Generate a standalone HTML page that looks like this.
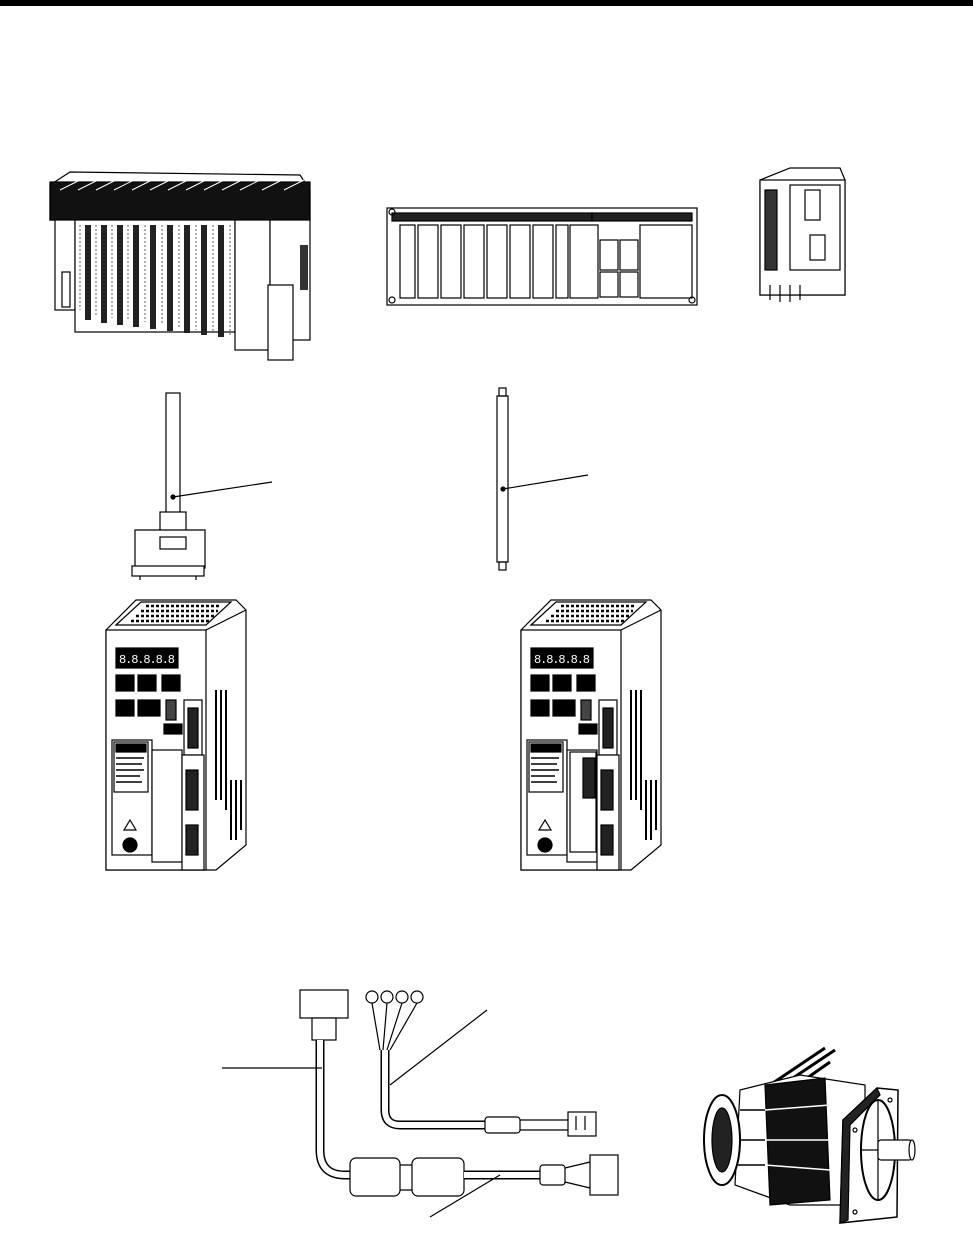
<!DOCTYPE html>
<html><head><meta charset="utf-8"><style>
html,body{margin:0;padding:0;background:#fff;}
svg{display:block}
</style></head><body>
<svg width="973" height="1234" viewBox="0 0 973 1234" xmlns="http://www.w3.org/2000/svg" fill="none" stroke="#000" stroke-width="1.2">
<rect x="0" y="0" width="973" height="6" fill="#000" stroke="none"/>

<!-- PLC 1 -->
<g>
<polygon points="50,185 70,172 300,175 310,190 310,220 50,220" fill="#fff"/>
<rect x="50" y="182" width="260" height="38" fill="#111"/>
<g stroke="#fff" stroke-width="1">
<line x1="60" y1="190" x2="80" y2="180"/><line x1="78" y1="190" x2="98" y2="180"/><line x1="96" y1="190" x2="116" y2="180"/><line x1="114" y1="190" x2="134" y2="180"/><line x1="132" y1="190" x2="152" y2="180"/><line x1="150" y1="190" x2="170" y2="180"/><line x1="168" y1="190" x2="188" y2="180"/><line x1="186" y1="190" x2="206" y2="180"/><line x1="204" y1="190" x2="224" y2="180"/><line x1="222" y1="190" x2="242" y2="180"/><line x1="240" y1="190" x2="260" y2="180"/><line x1="262" y1="190" x2="282" y2="180"/><line x1="284" y1="190" x2="304" y2="180"/>
</g>
<rect x="55" y="220" width="20" height="90" fill="#fff"/>
<rect x="75" y="220" width="160" height="112" fill="#fff"/>
<g fill="#222" stroke="none">
<rect x="85" y="225" width="6" height="95"/><rect x="101" y="225" width="6" height="98"/><rect x="117" y="225" width="6" height="100"/><rect x="133" y="225" width="6" height="102"/><rect x="150" y="225" width="6" height="104"/><rect x="167" y="225" width="6" height="106"/><rect x="184" y="225" width="6" height="108"/><rect x="201" y="225" width="6" height="110"/><rect x="218" y="225" width="6" height="112"/>
</g>
<g stroke="#777" stroke-dasharray="2,2">
<line x1="80" y1="225" x2="80" y2="310"/><line x1="96" y1="225" x2="96" y2="315"/><line x1="112" y1="225" x2="112" y2="318"/><line x1="128" y1="225" x2="128" y2="320"/><line x1="145" y1="225" x2="145" y2="322"/><line x1="162" y1="225" x2="162" y2="325"/><line x1="179" y1="225" x2="179" y2="328"/><line x1="196" y1="225" x2="196" y2="330"/><line x1="213" y1="225" x2="213" y2="333"/><line x1="230" y1="225" x2="230" y2="336"/>
</g>
<rect x="235" y="220" width="35" height="130" fill="#fff"/>
<rect x="270" y="220" width="40" height="120" fill="#fff"/>
<rect x="268" y="285" width="25" height="75" fill="#fff"/>
<rect x="300" y="245" width="8" height="45" fill="#333" stroke="none"/>
<rect x="62" y="272" width="8" height="35"/>
</g>

<!-- PLC 2 -->
<g>
<rect x="387" y="208" width="310" height="97" fill="#fff"/>
<rect x="392" y="213" width="200" height="8" fill="#222"/>
<rect x="592" y="213" width="100" height="8" fill="#222"/>
<rect x="400" y="225" width="15" height="73"/>
<rect x="418" y="225" width="20" height="73"/><rect x="441" y="225" width="20" height="73"/><rect x="464" y="225" width="20" height="73"/><rect x="487" y="225" width="20" height="73"/><rect x="510" y="225" width="20" height="73"/><rect x="533" y="225" width="20" height="73"/><rect x="556" y="225" width="12" height="73"/>
<rect x="570" y="225" width="28" height="73"/>
<rect x="600" y="240" width="18" height="30"/><rect x="620" y="240" width="18" height="30"/>
<rect x="600" y="272" width="18" height="25"/><rect x="620" y="272" width="18" height="25"/>
<rect x="640" y="225" width="52" height="73"/>
<circle cx="392" cy="300" r="3"/><circle cx="692" cy="300" r="3"/><circle cx="392" cy="212" r="3"/>
</g>

<!-- Small unit -->
<g>
<polygon points="760,180 790,168 840,168 845,180 845,295 760,295" fill="#fff"/>
<rect x="760" y="180" width="85" height="115" fill="#fff"/>
<rect x="765" y="190" width="12" height="80" fill="#333"/>
<rect x="790" y="185" width="50" height="85"/>
<rect x="805" y="190" width="15" height="30"/><rect x="810" y="235" width="15" height="25"/>
<line x1="770" y1="285" x2="770" y2="300"/><line x1="780" y1="285" x2="780" y2="302"/><line x1="790" y1="285" x2="790" y2="302"/><line x1="800" y1="285" x2="800" y2="300"/>
</g>

<!-- Cable 1 -->
<g>
<rect x="166" y="393" width="14" height="125" fill="#fff"/>
<line x1="173" y1="497" x2="272" y2="482"/>
<circle cx="173" cy="497" r="2" fill="#000"/>
<rect x="160" y="512" width="26" height="25" fill="#fff"/>
<polygon points="135,530 205,530 205,568 198,572 140,572 135,568" fill="#fff"/>
<rect x="160" y="537" width="26" height="12" fill="#fff"/>
<rect x="132" y="566" width="72" height="10" fill="#fff"/>
<line x1="140" y1="576" x2="140" y2="580"/><line x1="196" y1="576" x2="196" y2="580"/>
</g>

<!-- Cable 2 -->
<g>
<rect x="497" y="396" width="11" height="166" fill="#fff"/>
<rect x="499" y="388" width="7" height="8"/><rect x="499" y="562" width="7" height="8"/>
<line x1="503" y1="489" x2="588" y2="475"/>
<circle cx="503" cy="489" r="2" fill="#000"/>
</g>

<!-- Drive template -->
<defs>
<g id="drv">
<polygon points="0,30 30,0 130,0 140,10 140,245 110,270 0,270" fill="#fff"/>
<polygon points="10,25 35,2 125,2 100,25" fill="#fff"/>
<g stroke="#000" stroke-width="2.5" stroke-dasharray="3,2">
<line x1="40" y1="6" x2="115" y2="6"/><line x1="35" y1="11" x2="112" y2="11"/><line x1="30" y1="16" x2="108" y2="16"/><line x1="25" y1="21" x2="104" y2="21"/>
</g>
<rect x="0" y="30" width="100" height="240" fill="#fff"/>
<line x1="100" y1="30" x2="140" y2="10"/>
<rect x="10" y="48" width="62" height="20" fill="#000"/>
<text x="13" y="63" font-family="Liberation Mono, monospace" font-size="12" fill="#fff" stroke="none" textLength="56">8.8.8.8.8</text>
<rect x="10" y="75" width="18" height="16" fill="#000"/><rect x="32" y="75" width="18" height="16" fill="#000"/><rect x="56" y="75" width="18" height="16" fill="#000"/>
<rect x="10" y="100" width="18" height="16" fill="#000"/><rect x="32" y="100" width="22" height="16" fill="#000"/><rect x="60" y="100" width="10" height="20" fill="#444"/>
<rect x="58" y="124" width="18" height="10" fill="#000"/>
<rect x="78" y="100" width="18" height="55" fill="#fff"/><rect x="82" y="108" width="10" height="40" fill="#222"/>
<rect x="6" y="140" width="40" height="115" fill="#fff"/>
<rect x="8" y="142" width="34" height="50" fill="#fff"/>
<rect x="10" y="144" width="30" height="8" fill="#000"/>
<g stroke="#000" stroke-width="1.5"><line x1="10" y1="158" x2="38" y2="158"/><line x1="10" y1="164" x2="36" y2="164"/><line x1="10" y1="170" x2="38" y2="170"/><line x1="10" y1="176" x2="34" y2="176"/><line x1="10" y1="182" x2="36" y2="182"/></g>
<polygon points="18,230 24,220 30,230"/>
<circle cx="24" cy="245" r="7" fill="#000"/>
<rect x="46" y="150" width="30" height="112" fill="#fff"/>
<rect x="76" y="155" width="22" height="115" fill="#fff"/>
<rect x="80" y="170" width="12" height="40" fill="#222"/><rect x="80" y="225" width="12" height="30" fill="#222"/>
<g stroke="#000" stroke-width="2"><line x1="110" y1="90" x2="110" y2="200"/><line x1="115" y1="90" x2="115" y2="200"/><line x1="120" y1="90" x2="120" y2="210"/><line x1="125" y1="180" x2="125" y2="240"/><line x1="130" y1="180" x2="130" y2="240"/><line x1="135" y1="180" x2="135" y2="230"/></g>
</g>
</defs>
<use href="#drv" x="106" y="600"/>
<use href="#drv" x="521" y="600"/>
<rect x="570" y="752" width="26" height="100" fill="#fff"/>
<rect x="583" y="758" width="12" height="40" fill="#222"/>

<!-- Bottom cable assembly -->
<g>
<rect x="300" y="990" width="48" height="28" fill="#fff"/>
<rect x="312" y="1018" width="24" height="22" fill="#fff"/>
<path d="M320,1040 L320,1150 Q320,1175 345,1175 L355,1175" stroke-width="9" stroke="#000"/>
<path d="M320,1040 L320,1150 Q320,1175 345,1175 L355,1175" stroke-width="6" stroke="#fff"/>
<line x1="222" y1="1068" x2="322" y2="1068"/>
<g>
<circle cx="372" cy="997" r="6"/><circle cx="387" cy="997" r="6"/><circle cx="402" cy="997" r="6"/><circle cx="417" cy="997" r="6"/>
<path d="M372,1003 L380,1050 M387,1003 L383,1050 M402,1003 L387,1050 M417,1003 L390,1050"/>
</g>
<path d="M385,1050 L385,1110 Q385,1125 400,1125 L485,1125" stroke-width="9"/>
<path d="M385,1050 L385,1110 Q385,1125 400,1125 L485,1125" stroke-width="6" stroke="#fff"/>
<line x1="390" y1="1085" x2="487" y2="1010"/>
<rect x="485" y="1117" width="35" height="16" rx="3" fill="#fff"/>
<path d="M520,1120 L570,1120 M520,1130 L570,1130"/>
<rect x="568" y="1112" width="28" height="24" fill="#fff"/>
<path d="M576,1116 v14 M585,1116 v14"/>
<rect x="350" y="1158" width="50" height="38" rx="6" fill="#fff"/>
<rect x="412" y="1158" width="52" height="38" rx="6" fill="#fff"/>
<path d="M400,1165 L412,1165 M400,1190 L412,1190"/>
<path d="M464,1175 L540,1175" stroke-width="9"/>
<path d="M464,1175 L540,1175" stroke-width="6" stroke="#fff"/>
<line x1="430" y1="1217" x2="500" y2="1175"/>
<rect x="540" y="1165" width="25" height="20" rx="3" fill="#fff"/>
<path d="M565,1168 L590,1162 M565,1182 L590,1188"/>
<rect x="590" y="1155" width="28" height="40" fill="#fff"/>
</g>

<!-- Motor -->
<g>
<path d="M770,1085 L825,1048 M778,1088 L835,1050 M790,1090 L830,1062" stroke-width="3"/>
<polygon points="740,1090 800,1075 865,1085 865,1205 790,1205 735,1185" fill="#fff"/>
<polygon points="765,1085 825,1078 830,1200 770,1205" fill="#111"/>
<g stroke="#fff" stroke-width="1.5">
<line x1="765" y1="1110" x2="830" y2="1105"/><line x1="765" y1="1140" x2="830" y2="1140"/><line x1="765" y1="1165" x2="830" y2="1170"/>
</g>
<g stroke="#000" stroke-width="1.5">
<line x1="740" y1="1110" x2="765" y2="1110"/><line x1="735" y1="1140" x2="765" y2="1140"/><line x1="738" y1="1165" x2="765" y2="1165"/>
</g>
<ellipse cx="722" cy="1140" rx="18" ry="45" fill="#fff" stroke-width="2"/>
<ellipse cx="722" cy="1140" rx="10" ry="32" fill="#222"/>
<polygon points="843,1120 877,1088 898,1090 897,1217 840,1223" fill="#fff" stroke-width="1.5"/>
<polygon points="843,1120 877,1088 880,1095 850,1125 848,1220 840,1223" fill="#222"/>
<ellipse cx="878" cy="1150" rx="17" ry="50" stroke-width="2"/>
<line x1="878" y1="1100" x2="878" y2="1200"/>
<line x1="862" y1="1150" x2="895" y2="1150"/>
<rect x="878" y="1140" width="34" height="20" rx="3" fill="#fff"/>
<ellipse cx="912" cy="1150" rx="3" ry="10" fill="#fff"/>
<circle cx="855" cy="1130" r="2"/><circle cx="890" cy="1100" r="2"/><circle cx="855" cy="1212" r="2"/>
</g>
</svg>
</body></html>
